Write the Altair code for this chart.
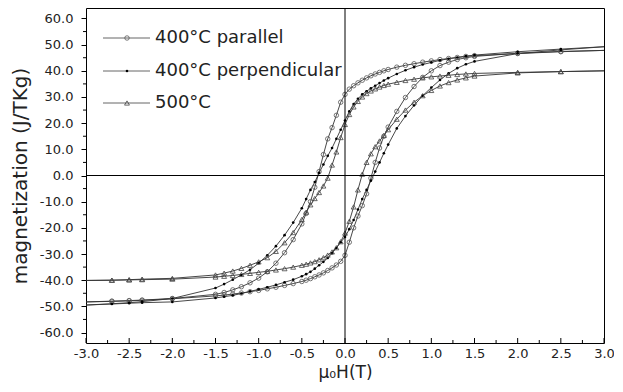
import altair as alt
import pandas as pd

# ---------------- data ----------------
H_DESC = [3.0, 2.5, 2.0, 1.5, 1.4, 1.3, 1.2, 1.1, 1.0, 0.9, 0.8, 0.7, 0.6, 0.5, 0.45, 0.4, 0.35,
          0.3, 0.25, 0.2, 0.15, 0.1, 0.05, 0.0, -0.05, -0.1, -0.15, -0.2, -0.25, -0.3, -0.35,
          -0.4, -0.45, -0.5, -0.6, -0.7, -0.8, -0.9, -1.0, -1.1, -1.2, -1.3, -1.4, -1.5, -2.0,
          -2.35, -2.5, -2.7, -3.0]
H_ASC = list(reversed(H_DESC))

PAR_DESC = [47.8, 47.3, 46.6, 45.8, 45.5, 45.1, 44.7, 44.3, 43.8, 43.3, 42.7, 42.1, 41.4, 40.5, 40.0,
            39.4, 38.8, 38.1, 37.3, 36.4, 35.4, 34.3, 33.0, 31.0, 28.0, 23.0, 18.3, 14.0, 8.0, 1.5,
            -4.5, -10.0, -14.5, -18.5, -24.5, -29.5, -33.5, -36.8, -39.2, -41.0, -42.5, -43.7,
            -44.7, -45.4, -47.0, -47.6, -47.8, -48.0, -48.3]
PAR_ASC = [-48.3, -48.1, -47.9, -47.7, -47.1, -46.0, -45.7, -45.3, -44.9, -44.4, -43.9, -43.3, -42.7,
           -42.0, -41.3, -40.5, -40.0, -39.4, -38.7, -38.0, -37.2, -36.3, -35.3, -34.2, -32.8, -30.5,
           -25.5, -20.0, -15.5, -11.5, -7.0, -1.0, 5.0, 10.5, 15.0, 18.5, 24.5, 29.8, 34.0, 37.5,
           40.0, 42.0, 43.3, 44.3, 45.0, 45.5, 46.7, 47.4, 47.8]

PERP_DESC = [49.2, 48.3, 47.3, 46.0, 45.6, 45.1, 44.6, 44.0, 43.2, 42.4, 41.4, 40.2, 38.8, 37.2, 36.3,
             35.3, 34.3, 33.3, 32.2, 31.0, 29.3, 27.3, 24.5, 21.0, 17.5, 14.0, 10.5, 7.5, 4.2, 1.0,
             -2.5, -5.5, -9.0, -12.5, -18.0, -22.8, -27.0, -30.5, -33.5, -36.0, -38.0, -39.8,
             -41.5, -43.0, -47.0, -48.2, -48.6, -49.0, -49.5]
PERP_ASC = [-49.5, -49.1, -48.8, -48.6, -48.3, -46.8, -46.3, -45.8, -45.1, -44.3, -43.5, -42.7, -41.8,
            -40.8, -39.8, -38.5, -37.7, -36.8, -35.6, -34.3, -33.0, -31.5, -29.7, -27.7, -25.5, -23.5,
            -20.5, -17.0, -13.0, -9.0, -5.5, -2.0, 1.5, 5.0, 8.5, 11.8, 18.0, 22.7, 26.8, 30.5,
            33.6, 36.5, 39.0, 41.0, 42.5, 43.6, 46.6, 48.0, 49.2]

T500_DESC = [40.0, 39.7, 39.4, 39.0, 38.8, 38.6, 38.3, 38.0, 37.7, 37.3, 36.8, 36.3, 35.6, 34.9, 34.4,
             33.8, 33.1, 32.3, 31.3, 30.0, 28.3, 26.2, 23.3, 19.5, 14.5, 9.0, 4.0, -1.0, -4.0, -6.5,
             -8.8, -11.2, -14.0, -16.8, -21.8, -25.7, -29.0, -31.4, -33.0, -34.3, -35.5, -36.5,
             -37.3, -38.0, -39.3, -39.6, -39.8, -40.0, -40.1]
T500_ASC = [-40.1, -40.0, -39.9, -39.8, -39.6, -38.8, -38.5, -38.2, -37.8, -37.4, -37.0, -36.6, -36.1,
            -35.6, -35.0, -34.3, -33.9, -33.4, -32.9, -32.2, -31.4, -30.4, -29.2, -27.6, -25.3, -22.0,
            -17.5, -12.0, -5.5, 0.5, 5.0, 8.3, 11.0, 13.2, 15.3, 17.5, 21.5, 25.0, 28.0, 30.5,
            32.5, 34.2, 35.5, 36.5, 37.3, 38.0, 39.2, 39.7, 40.0]

SERIES = ["400°C parallel", "400°C perpendicular", "500°C"]
X_TICKS = [-3.0, -2.5, -2.0, -1.5, -1.0, -0.5, 0.0, 0.5, 1.0, 1.5, 2.0, 2.5, 3.0]
X_MINOR = [-2.75, -2.25, -1.75, -1.25, -0.75, -0.25, 0.25, 0.75, 1.25, 1.75, 2.25, 2.75]
Y_TICKS = [-60, -50, -40, -30, -20, -10, 0, 10, 20, 30, 40, 50, 60]
Y_MINOR = [-55, -45, -35, -25, -15, -5, 5, 15, 25, 35, 45, 55]

# ---------------- table ----------------
rows = []
for name, desc, asc in [(SERIES[0], PAR_DESC, PAR_ASC),
                        (SERIES[1], PERP_DESC, PERP_ASC),
                        (SERIES[2], T500_DESC, T500_ASC)]:
    for i, (h, m) in enumerate(zip(H_DESC, desc)):
        rows.append({"series": name, "branch": "down", "order": i, "H": h, "M": m})
    for i, (h, m) in enumerate(zip(H_ASC, asc)):
        rows.append({"series": name, "branch": "up", "order": i, "H": h, "M": m})
df = pd.DataFrame(rows)
df["key"] = df["series"] + "|" + df["branch"]

W, Hh = 518, 335
FONT = "DejaVu Sans"
LABEL_EXPR = "replace(format(datum.value, '.1f'), '\u2212', '-')"

xs = alt.Scale(domain=[-3, 3], nice=False, zero=False)
ys = alt.Scale(domain=[-64, 64], nice=False, zero=False)

X_AXIS = alt.Axis(values=X_TICKS, labelExpr=LABEL_EXPR, title="μ₀H(T)", grid=False, ticks=False,
                  labelOverlap=False, labelFlush=False,
                  labelFont=FONT, labelFontSize=13, labelColor="#222", labelPadding=4,
                  titleFont=FONT, titleFontSize=17, titleFontWeight="normal",
                  titleColor="#222", titlePadding=4, domain=False)
Y_AXIS = alt.Axis(values=Y_TICKS, labelExpr=LABEL_EXPR, title="magnetization (J/TKg)", grid=False,
                  labelOverlap=False, labelFlush=False,
                  tickSize=5, tickColor="black", labelFont=FONT, labelFontSize=13,
                  labelColor="#222", labelPadding=8, titleFont=FONT, titleFontSize=20,
                  titleFontWeight="normal", titleColor="#222", titlePadding=9,
                  domain=False)


def xenc(field):
    return alt.X(field, type="quantitative", scale=xs, axis=X_AXIS)


def yenc(field):
    return alt.Y(field, type="quantitative", scale=ys, axis=Y_AXIS)


base = alt.Chart(df)

lines = base.mark_line(color="#333", strokeWidth=0.9).encode(
    x=xenc("H"), y=yenc("M"), detail="key:N", order="order:Q")

STYLES = {
    SERIES[0]: dict(shape="circle", filled=False, size=20, color="#555", strokeWidth=0.8),
    SERIES[1]: dict(shape="circle", filled=True, size=7, color="black", strokeWidth=0),
    SERIES[2]: dict(shape="triangle-up", filled=False, size=24, color="#444", strokeWidth=0.8),
}

layers = [lines]
for s in SERIES:
    layers.append(
        base.transform_filter((alt.datum.series == s) & (alt.datum.H > -2.95) & (alt.datum.H < 2.95))
        .mark_point(opacity=1, **STYLES[s])
        .encode(x=xenc("H"), y=yenc("M"))
    )

zero_df = pd.DataFrame({"v": [0]})
layers.append(alt.Chart(zero_df).mark_rule(color="black", strokeWidth=1).encode(y=yenc("v")))
layers.append(alt.Chart(zero_df).mark_rule(color="black", strokeWidth=1).encode(x=xenc("v")))

# inward x ticks
layers.append(alt.Chart(pd.DataFrame({"v": X_TICKS})).mark_rule(color="black", strokeWidth=1).encode(
    x=xenc("v"), y=alt.value(Hh), y2=alt.value(Hh - 5)))
layers.append(alt.Chart(pd.DataFrame({"v": X_MINOR})).mark_rule(color="black", strokeWidth=1).encode(
    x=xenc("v"), y=alt.value(Hh), y2=alt.value(Hh - 3)))
# outward minor y ticks
layers.append(alt.Chart(pd.DataFrame({"v": Y_MINOR})).mark_rule(color="black", strokeWidth=1).encode(
    y=yenc("v"), x=alt.value(-3), x2=alt.value(0)))

# legend
LEG_ROW_Y = [30, 63, 95]
for s, py in zip(SERIES, LEG_ROW_Y):
    ldf = pd.DataFrame({"label": [s]})
    layers.append(alt.Chart(ldf).mark_rule(color="#555", strokeWidth=0.9).encode(
        x=alt.value(17), x2=alt.value(64), y=alt.value(py)))
    layers.append(alt.Chart(ldf).mark_point(opacity=1, **STYLES[s]).encode(
        x=alt.value(41), y=alt.value(py)))
    layers.append(alt.Chart(ldf).mark_text(align="left", baseline="middle", font=FONT,
                                           fontSize=18, color="#222").encode(
        x=alt.value(69), y=alt.value(py), text="label:N"))

chart = alt.layer(*layers).properties(
    width=W, height=Hh,
    autosize=alt.AutoSizeParams(type="none"),
    padding={"left": 78, "top": 0, "right": 10, "bottom": 40},
    background="white",
).configure_view(stroke="black", strokeWidth=1)

chart.save("out.html", embed_options={"renderer": "svg", "actions": False})
